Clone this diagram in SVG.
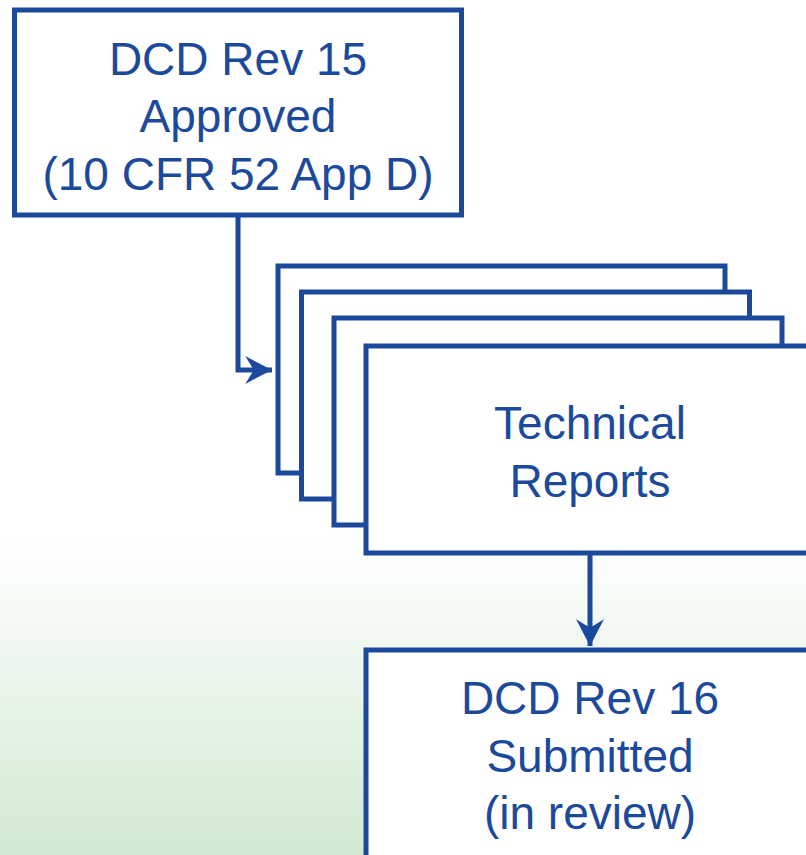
<svg xmlns="http://www.w3.org/2000/svg" width="806" height="855" viewBox="0 0 806 855">
<defs>
<linearGradient id="bg" x1="0" y1="0" x2="0" y2="1">
<stop offset="0.63" stop-color="#ffffff"/>
<stop offset="1" stop-color="#d1e9d2"/>
</linearGradient>
<marker id="arr" markerUnits="userSpaceOnUse" markerWidth="30" markerHeight="30" viewBox="-26 -14 28 28" refX="0" refY="0" orient="auto">
<path d="M0,0 L-25,-13 L-17,0 L-25,13 Z" fill="#1b4a9c"/>
</marker>
</defs>
<style>
.box{fill:#ffffff;stroke:#1b4a9c;stroke-width:5}
.lbl{font-family:"Liberation Sans",Arial,sans-serif;font-size:46px;fill:#1b4a9c;text-anchor:middle}
.con{fill:none;stroke:#1b4a9c;stroke-width:5}
</style>
<rect x="0" y="0" width="806" height="855" fill="url(#bg)"/>
<g id="connectors">
<path class="con" d="M238,217 V370 H272" marker-end="url(#arr)"/>
<path class="con" d="M590,555 V646" marker-end="url(#arr)"/>
</g>
<g id="dcd15">
<rect class="box" x="14.5" y="10" width="447" height="205"/>
<text class="lbl" x="238" y="75">DCD Rev 15</text>
<text class="lbl" x="238" y="132">Approved</text>
<text class="lbl" x="238" y="190">(10 CFR 52 App D)</text>
</g>
<g id="tech-reports">
<rect class="box" x="278" y="266" width="447" height="207"/>
<rect class="box" x="301.5" y="292" width="448" height="207"/>
<rect class="box" x="334" y="318" width="448" height="207"/>
<rect class="box" x="366" y="346" width="448" height="207"/>
<text class="lbl" x="590" y="439">Technical</text>
<text class="lbl" x="590" y="497">Reports</text>
</g>
<g id="dcd16">
<rect class="box" x="366" y="650" width="448" height="220"/>
<text class="lbl" x="590" y="714">DCD Rev 16</text>
<text class="lbl" x="590" y="772">Submitted</text>
<text class="lbl" x="590" y="829">(in review)</text>
</g>
</svg>
